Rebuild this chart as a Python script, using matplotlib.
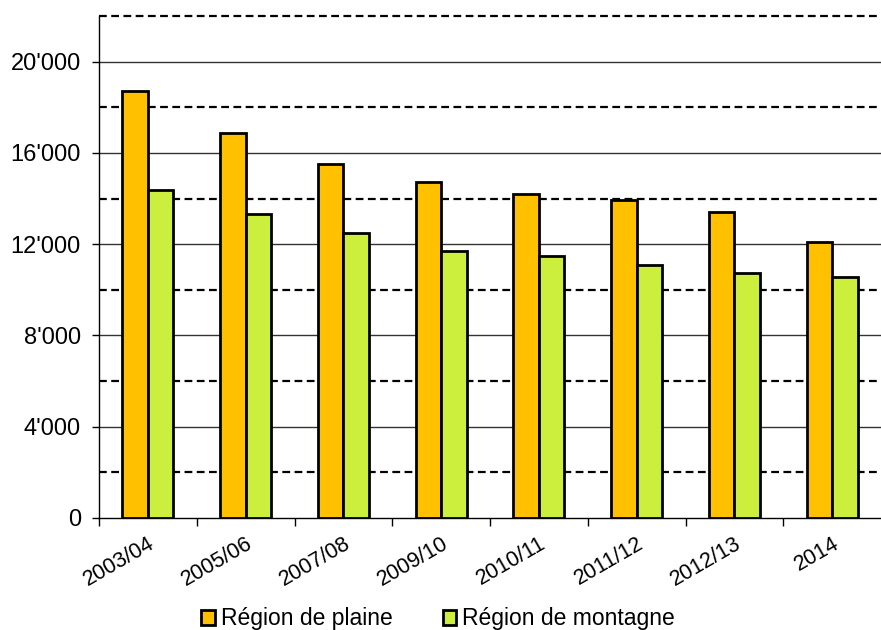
import matplotlib
import matplotlib.pyplot as plt
import numpy as np
from matplotlib.ticker import MultipleLocator, FuncFormatter
from matplotlib.patches import Patch

matplotlib.use('Agg')
plt.rcParams['font.family'] = ['Liberation Sans', 'DejaVu Sans']

categories = ['2003/04', '2005/06', '2007/08', '2009/10', '2010/11', '2011/12', '2012/13', '2014']
plaine = [18720, 16880, 15520, 14740, 14210, 13950, 13390, 12080]
montagne = [14380, 13330, 12500, 11710, 11490, 11080, 10750, 10560]
series_names = ['Région de plaine', 'Région de montagne']
colors = ['#FFC000', '#CCEE3C']

fig = plt.figure(figsize=(8.81, 6.30), dpi=100)
ax = fig.add_axes([99 / 881, 1 - 518 / 630, 1 - 99 / 881, (518 - 16) / 630])

x = np.arange(len(categories))
w = 0.26
ax.bar(x - w / 2, plaine, w, color=colors[0], edgecolor='black', linewidth=2, zorder=3)
ax.bar(x + w / 2, montagne, w, color=colors[1], edgecolor='black', linewidth=2, zorder=3)

ax.set_xlim(-0.5, len(categories) - 0.5)
ax.set_ylim(0, 22000)

# gridlines: solid at major, dashed halfway
for v in range(4000, 22001, 4000):
    ax.axhline(v, color='#333333', linewidth=1, zorder=1)
for v in range(2000, 22001, 4000):
    ax.axhline(v, color='black', linewidth=1.6, linestyle=(0, (3.5, 2)), zorder=1, clip_on=False)

ax.yaxis.set_major_locator(MultipleLocator(4000))
ax.yaxis.set_major_formatter(FuncFormatter(lambda v, p: f"{int(v):,}".replace(',', "'")))
ax.tick_params(axis='y', length=5, width=1, labelsize=17, pad=8)

ax.set_xticks(x - 0.5, minor=False)
ax.set_xticklabels([])
ax.set_xticks(x, minor=True)
ax.set_xticklabels(categories, minor=True, rotation=30, ha='right', rotation_mode='anchor', fontsize=15.5)
ax.tick_params(axis='x', which='major', length=6, width=1, direction='out')
ax.tick_params(axis='x', which='minor', length=0, pad=11)

for s in ['top', 'right']:
    ax.spines[s].set_visible(False)
ax.spines['left'].set_linewidth(1)
ax.spines['bottom'].set_linewidth(1)

handles = [Patch(facecolor=c, edgecolor='black', linewidth=2) for c in colors]
fig.legend(handles, series_names, loc='center', bbox_to_anchor=(438 / 881, 1 - 619 / 630),
           ncol=2, frameon=False, fontsize=16.5, handlelength=0.6, handleheight=0.6,
           handletextpad=0.25, columnspacing=2.2)

fig.savefig('out.png', dpi=100)
